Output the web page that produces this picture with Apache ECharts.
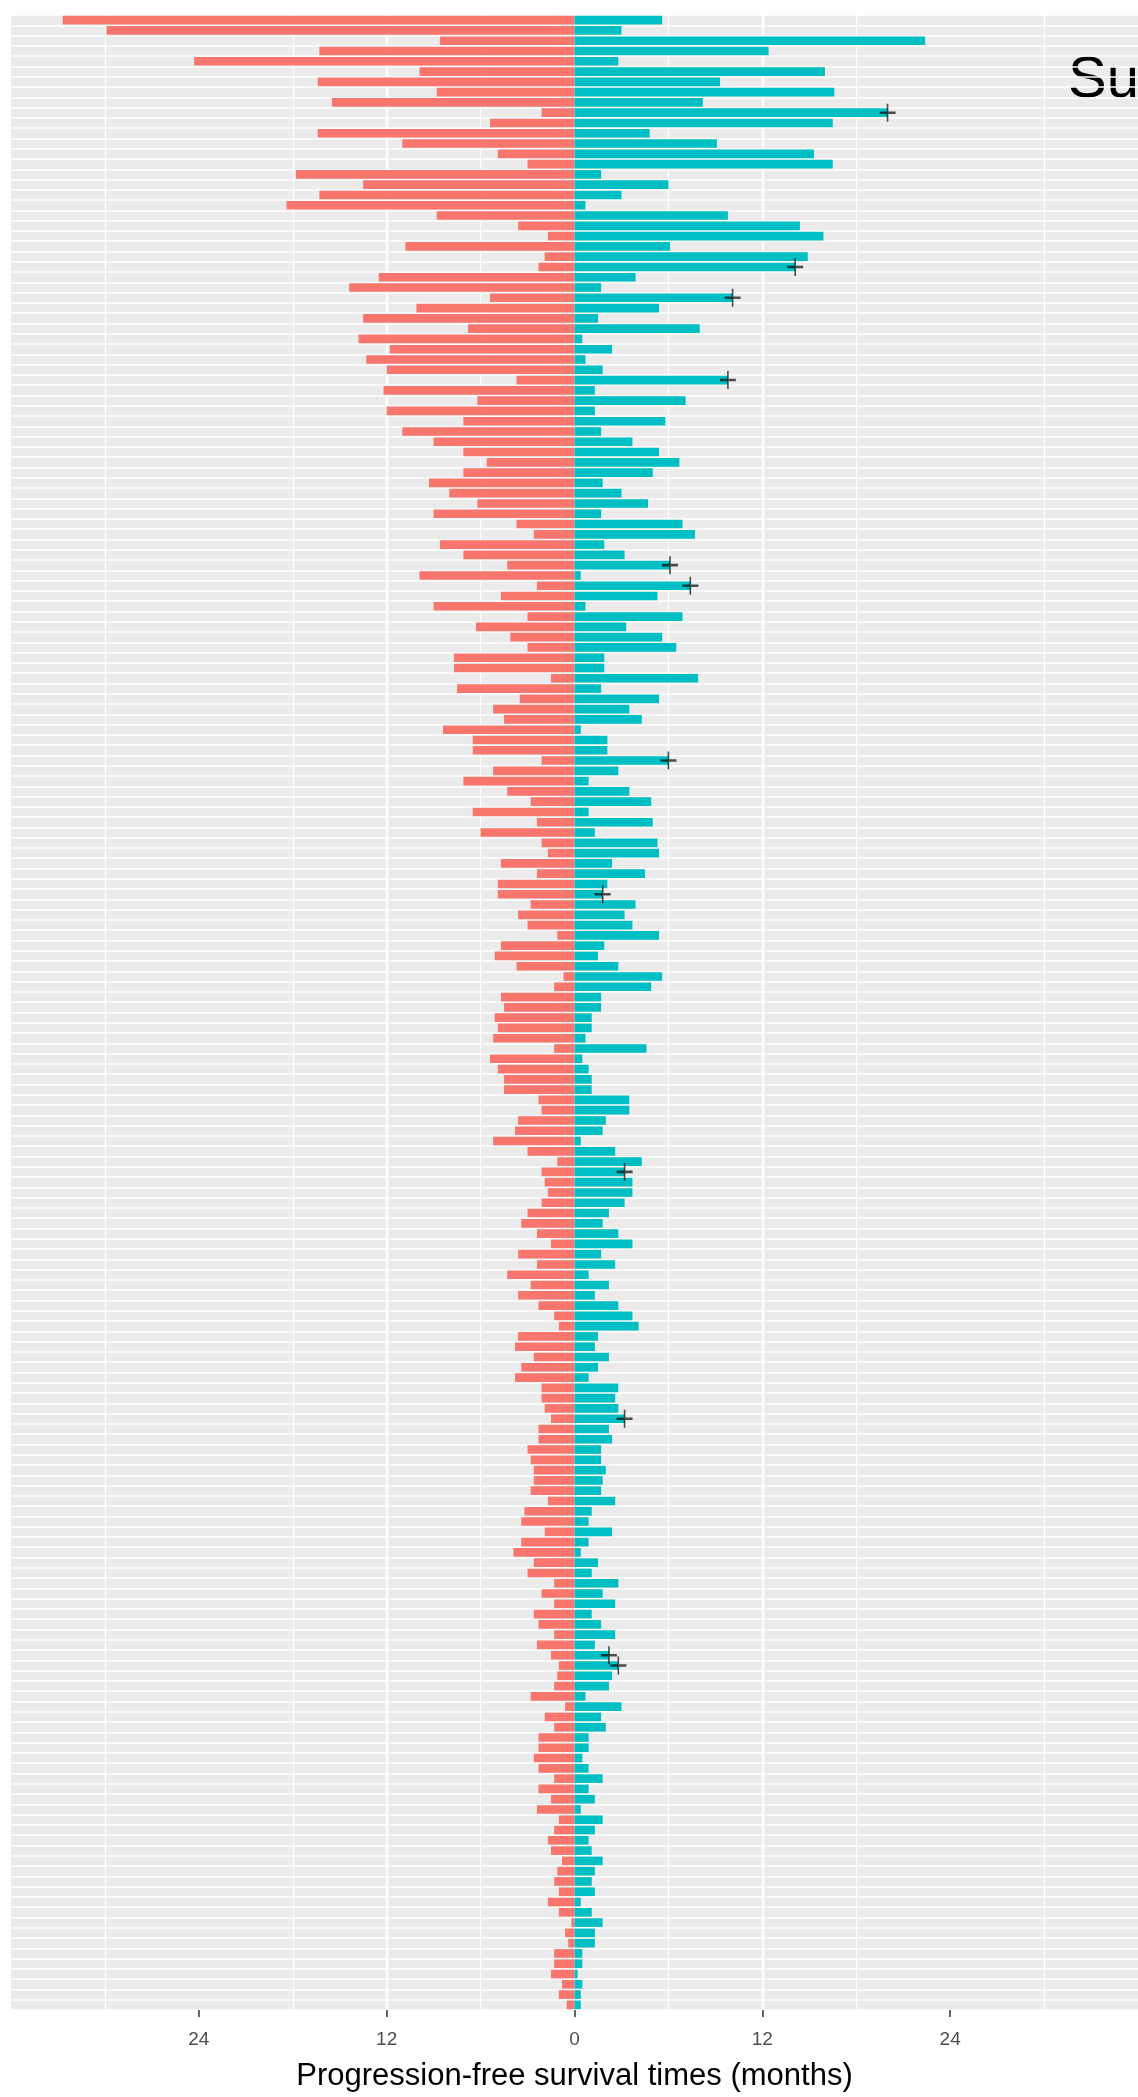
<!DOCTYPE html>
<html>
<head>
<meta charset="utf-8">
<title>PFS swimmer</title>
<script src="https://cdn.jsdelivr.net/npm/echarts@6.0.0/dist/echarts.min.js"></script>
<style>
  html, body { margin: 0; padding: 0; background: #fff; }
  #main { width: 1138px; height: 2097px; }
</style>
</head>
<body>
<div id="main"></div>
<script>
// left side (red), months, shown as negative
var pfsLeft = [
  32.7, 29.9, 8.6, 16.3, 24.3, 9.9, 16.4, 8.8, 15.5, 2.1,
  5.4, 16.4, 11.0, 4.9, 3.0, 17.8, 13.5, 16.3, 18.4, 8.8,
  3.6, 1.7, 10.8, 1.9, 2.3, 12.5, 14.4, 5.4, 10.1, 13.5,
  6.8, 13.8, 11.8, 13.3, 12.0, 3.7, 12.2, 6.2, 12.0, 7.1,
  11.0, 9.0, 7.1, 5.6, 7.1, 9.3, 8.0, 6.2, 9.0, 3.7,
  2.6, 8.6, 7.1, 4.3, 9.9, 2.4, 4.7, 9.0, 3.0, 6.3,
  4.1, 3.0, 7.7, 7.7, 1.5, 7.5, 3.5, 5.2, 4.5, 8.4,
  6.5, 6.5, 2.1, 5.2, 7.1, 4.3, 2.8, 6.5, 2.4, 6.0,
  2.1, 1.7, 4.7, 2.4, 4.9, 4.9, 2.8, 3.6, 3.0, 1.1,
  4.7, 5.1, 3.7, 0.7, 1.3, 4.7, 4.5, 5.1, 4.9, 5.2,
  1.3, 5.4, 4.9, 4.5, 4.5, 2.3, 2.1, 3.6, 3.8, 5.2,
  3.0, 1.1, 2.1, 1.9, 1.7, 2.1, 3.0, 3.4, 2.4, 1.5,
  3.6, 2.4, 4.3, 2.8, 3.6, 2.3, 1.3, 1.0, 3.6, 3.8,
  2.6, 3.4, 3.8, 2.1, 2.1, 1.9, 1.5, 2.3, 2.3, 3.0,
  2.8, 2.6, 2.6, 2.8, 1.7, 3.2, 3.4, 1.9, 3.4, 3.9,
  2.6, 3.0, 1.3, 2.1, 1.3, 2.6, 2.3, 1.3, 2.4, 1.5,
  1.0, 1.1, 1.3, 2.8, 0.6, 1.9, 1.3, 2.3, 2.3, 2.6,
  2.3, 1.3, 2.3, 1.5, 2.4, 1.0, 1.3, 1.7, 1.5, 0.8,
  1.1, 1.3, 1.0, 1.7, 1.0, 0.2, 0.6, 0.4, 1.3, 1.3,
  1.5, 0.8, 1.0, 0.5
];
// right side (teal), months
var pfsRight = [
  5.6, 3.0, 22.4, 12.4, 2.8, 16.0, 9.3, 16.6, 8.2, 20.0,
  16.5, 4.8, 9.1, 15.3, 16.5, 1.7, 6.0, 3.0, 0.7, 9.8,
  14.4, 15.9, 6.1, 14.9, 14.1, 3.9, 1.7, 10.1, 5.4, 1.5,
  8.0, 0.5, 2.4, 0.7, 1.8, 9.8, 1.3, 7.1, 1.3, 5.8,
  1.7, 3.7, 5.4, 6.7, 5.0, 1.8, 3.0, 4.7, 1.7, 6.9,
  7.7, 1.9, 3.2, 6.1, 0.4, 7.4, 5.3, 0.7, 6.9, 3.3,
  5.6, 6.5, 1.9, 1.9, 7.9, 1.7, 5.4, 3.5, 4.3, 0.4,
  2.1, 2.1, 6.0, 2.8, 0.9, 3.5, 4.9, 0.9, 5.0, 1.3,
  5.3, 5.4, 2.4, 4.5, 2.1, 1.8, 3.9, 3.2, 3.7, 5.4,
  1.9, 1.5, 2.8, 5.6, 4.9, 1.7, 1.7, 1.1, 1.1, 0.7,
  4.6, 0.5, 0.9, 1.1, 1.1, 3.5, 3.5, 2.0, 1.8, 0.4,
  2.6, 4.3, 3.2, 3.7, 3.7, 3.2, 2.2, 1.8, 2.8, 3.7,
  1.7, 2.6, 0.9, 2.2, 1.3, 2.8, 3.7, 4.1, 1.5, 1.3,
  2.2, 1.5, 0.9, 2.8, 2.6, 2.8, 3.2, 2.2, 2.4, 1.7,
  1.7, 2.0, 1.8, 1.7, 2.6, 1.1, 0.9, 2.4, 0.9, 0.4,
  1.5, 1.1, 2.8, 1.8, 2.6, 1.1, 1.7, 2.6, 1.3, 2.2,
  2.8, 2.4, 2.2, 0.7, 3.0, 1.7, 2.0, 0.9, 0.9, 0.5,
  0.9, 1.8, 0.9, 1.3, 0.4, 1.8, 1.3, 0.9, 1.1, 1.8,
  1.3, 1.1, 1.3, 0.4, 1.1, 1.8, 1.3, 1.3, 0.5, 0.5,
  0.2, 0.5, 0.4, 0.4
];
// rows (1-based) with a censor mark at the end of the teal bar
var censoredRows = [10, 25, 28, 36, 54, 56, 73, 86, 113, 137, 160, 161];
var tickValues = [-24, -12, 0, 12, 24];
var axisTitle = 'Progression-free survival times (months)';

var patients = [];
for (var i = 0; i < pfsLeft.length; i++) {
  patients.push(String(i + 1));
}

var leftData = pfsLeft.map(function (v) { return -v; });
var censorData = censoredRows.map(function (r) {
  return [pfsRight[r - 1], r - 1];
});

var myChart = echarts.init(document.getElementById('main'));
var option;

option = {
  animation: false,
  textStyle: { fontFamily: 'Liberation Sans, Arial, sans-serif' },
  grid: {
    left: 11,
    right: 0,
    top: 15,
    bottom: 77,
    show: true,
    backgroundColor: '#EBEBEB',
    borderWidth: 0
  },
  xAxis: {
    type: 'value',
    min: -36,
    max: 36,
    interval: 12,
    axisLine: { show: false },
    axisTick: {
      show: true,
      customValues: tickValues,
      length: 7,
      lineStyle: { color: '#333333', width: 1.5 }
    },
    axisLabel: {
      customValues: tickValues,
      margin: 20,
      fontSize: 19,
      color: '#4D4D4D',
      formatter: function (v) { return String(Math.abs(v)); }
    },
    splitLine: {
      show: true,
      showMinLine: false,
      showMaxLine: false,
      lineStyle: { color: '#FFFFFF', width: 2.4 }
    },
    minorTick: { show: false, splitNumber: 2 },
    minorSplitLine: {
      show: true,
      lineStyle: { color: '#FFFFFF', width: 1.2 }
    },
    name: axisTitle,
    nameLocation: 'middle',
    nameGap: 51,
    nameTextStyle: { fontSize: 31, color: '#000000' }
  },
  yAxis: {
    type: 'category',
    inverse: true,
    data: patients,
    axisLine: { show: false },
    axisTick: { show: false },
    axisLabel: { show: false, interval: 0 },
    splitLine: {
      show: true,
      interval: 0,
      lineStyle: { color: '#FFFFFF', width: 1.6 }
    }
  },
  graphic: [
    {
      type: 'text',
      left: 1068,
      top: 52,
      style: {
        text: 'Su',
        fontSize: 58,
        fontFamily: 'Liberation Sans, Arial, sans-serif',
        fill: '#000000'
      }
    }
  ],
  series: [
    {
      name: 'left',
      type: 'bar',
      data: leftData,
      barGap: '-100%',
      barCategoryGap: '16%',
      itemStyle: { color: '#F8766D' }
    },
    {
      name: 'right',
      type: 'bar',
      data: pfsRight,
      barGap: '-100%',
      barCategoryGap: '16%',
      itemStyle: { color: '#00BFC4' }
    },
    {
      name: 'censored',
      type: 'scatter',
      data: censorData,
      symbol: 'path://M-0.8,-9 H0.8 V-1.3 H8 V1.3 H0.8 V9 H-0.8 V1.3 H-8 V-1.3 H-0.8 Z',
      symbolSize: [16, 18],
      itemStyle: { color: 'rgba(0,0,0,0.85)' },
      z: 5
    }
  ]
};

option && myChart.setOption(option);
</script>
</body>
</html>
